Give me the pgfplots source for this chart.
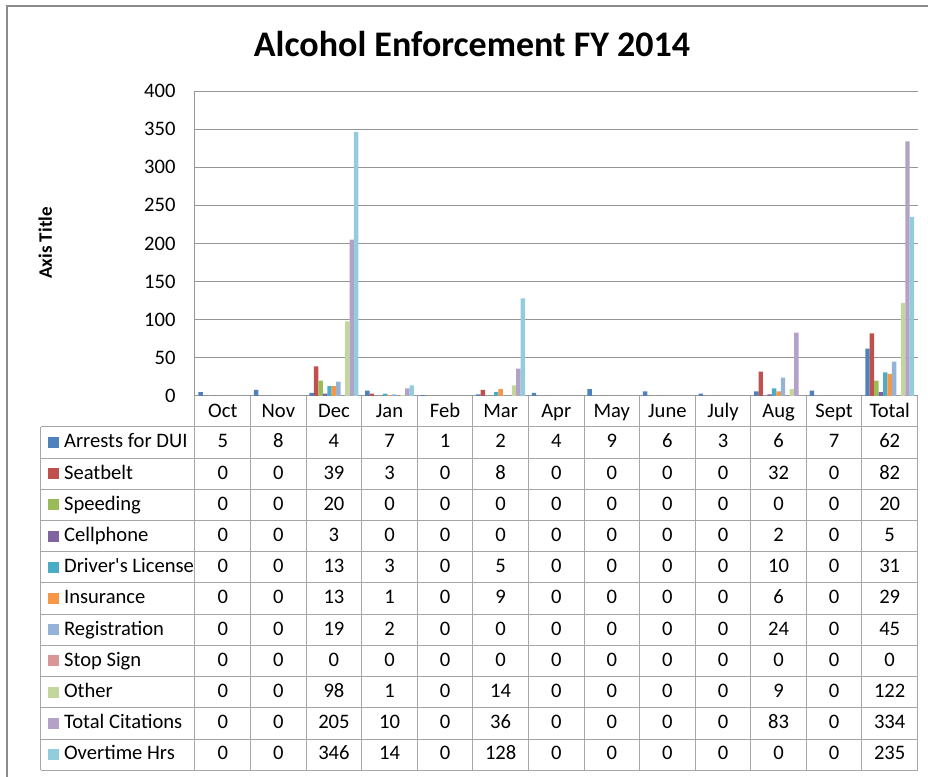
\documentclass[border=0pt]{standalone}
\usepackage{fontspec}
\setmainfont{Carlito}
\usepackage{pgfplots}
\usepackage{pgfplotstable}
\pgfplotsset{compat=1.18}
\definecolor{cA}{HTML}{4F81BD}
\definecolor{cB}{HTML}{C0504D}
\definecolor{cC}{HTML}{9BBB59}
\definecolor{cD}{HTML}{8064A2}
\definecolor{cE}{HTML}{4BACC6}
\definecolor{cF}{HTML}{F79646}
\definecolor{cG}{HTML}{95B3D7}
\definecolor{cH}{HTML}{D99694}
\definecolor{cI}{HTML}{C3D69B}
\definecolor{cJ}{HTML}{B3A2C7}
\definecolor{cK}{HTML}{93CDDD}
\definecolor{gridc}{HTML}{969696}
\definecolor{tabc}{HTML}{A6A6A6}
\definecolor{framec}{HTML}{8C8C8C}

\pgfplotstableread{
x DUI Seat Speed Cell DL Ins Reg Stop Other TotCit OT
0 5 0 0 0 0 0 0 0 0 0 0
1 8 0 0 0 0 0 0 0 0 0 0
2 4 39 20 3 13 13 19 0 98 205 346
3 7 3 0 0 3 1 2 0 1 10 14
4 1 0 0 0 0 0 0 0 0 0 0
5 2 8 0 0 5 9 0 0 14 36 128
6 4 0 0 0 0 0 0 0 0 0 0
7 9 0 0 0 0 0 0 0 0 0 0
8 6 0 0 0 0 0 0 0 0 0 0
9 3 0 0 0 0 0 0 0 0 0 0
10 6 32 0 2 10 6 24 0 9 83 0
11 7 0 0 0 0 0 0 0 0 0 0
12 62 82 20 5 31 29 45 0 122 334 235
}\data

\newcommand\tabfont{\fontsize{10.3}{12}\selectfont}

\begin{document}
\begin{tikzpicture}
\begin{axis}[
  scale only axis, width=361.25pt, height=152.5pt,
  xmin=-0.5, xmax=12.5, ymin=0, ymax=400,
  ybar=0pt, bar width=2.223pt,
  xtick={0,...,12},
  xticklabels={Oct,Nov,Dec,Jan,Feb,Mar,Apr,May,June,July,Aug,Sept,Total},
  ytick={0,50,...,400},
  major tick length=0pt,
  ymajorgrids, grid style={draw=gridc, line width=0.5pt},
  axis x line*=bottom, axis y line*=left,
  axis line style={draw=gridc, line width=0.5pt, -},
  xticklabel style={anchor=base, yshift=-11pt, font=\tabfont},
  yticklabel style={xshift=-6.2pt, font=\tabfont},
  /pgf/number format/assume math mode=true,
  clip=false,
]
\addplot[fill=cA, draw=none] table[x=x,y=DUI]{\data};
\addplot[fill=cB, draw=none] table[x=x,y=Seat]{\data};
\addplot[fill=cC, draw=none] table[x=x,y=Speed]{\data};
\addplot[fill=cD, draw=none] table[x=x,y=Cell]{\data};
\addplot[fill=cE, draw=none] table[x=x,y=DL]{\data};
\addplot[fill=cF, draw=none] table[x=x,y=Ins]{\data};
\addplot[fill=cG, draw=none] table[x=x,y=Reg]{\data};
\addplot[fill=cH, draw=none] table[x=x,y=Stop]{\data};
\addplot[fill=cI, draw=none] table[x=x,y=Other]{\data};
\addplot[fill=cJ, draw=none] table[x=x,y=TotCit]{\data};
\addplot[fill=cK, draw=none] table[x=x,y=OT]{\data};
\end{axis}
\begin{scope}[x=0.5pt,y=0.5pt]
  \path[use as bounding box] (-195,-381) rectangle (733,396);
  % outer frame (top and left visible)
  \draw[framec, line width=1pt] (-188,-381) -- (-188,389.5) -- (733,389.5);
  % title and axis title
  \node[font=\fontsize{18}{20}\selectfont\bfseries] at (277,351.8) {Alcohol Enforcement FY 2014};
  \node[font=\fontsize{9.5}{11}\selectfont\bfseries, rotate=90] at (-149.7,153) {Axis Title};
  % table grid
  \foreach \k in {0,...,13} \draw[tabc, line width=0.5pt] ({55.577*\k},0) -- ({55.577*\k},-374.2);
  \draw[tabc, line width=0.5pt] (-154,-31) -- (-154,-374.2);
  \foreach \i in {0,...,11} \draw[tabc, line width=0.5pt] (-154,{-31-31.2*\i}) -- (722.5,{-31-31.2*\i});
  % legend keys
  \foreach \col/\name [count=\i from 0] in {cA/Arrests for DUI, cB/Seatbelt, cC/Speeding, cD/Cellphone, cE/Driver\textquotesingle s License, cF/Insurance, cG/Registration, cH/Stop Sign, cI/Other, cJ/Total Citations, cK/Overtime Hrs}{
    \fill[\col] (-146.7,{-46.6-31.2*\i-5.5}) rectangle ++(11,11);
    \node[anchor=base west, inner sep=0, font=\tabfont] at (-131.3,{-52-31.2*\i}) {\name};
  }
  % values
  \foreach \s in {1,...,11}{
    \foreach \r in {0,...,12}{
      \pgfplotstablegetelem{\r}{[index]\s}\of\data
      \node[anchor=base, inner sep=0, font=\tabfont] at ({55.577*(\r+0.5)},{-52-31.2*(\s-1)}) {\pgfplotsretval};
    }
  }
\end{scope}
\end{tikzpicture}
\end{document}
